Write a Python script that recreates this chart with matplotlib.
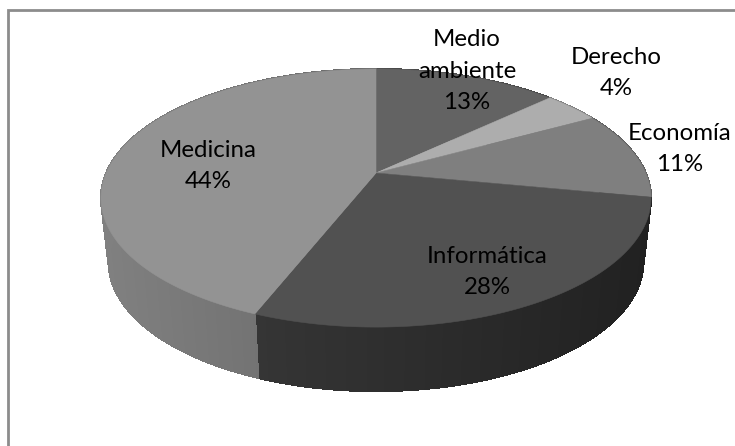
import numpy as np
import matplotlib
matplotlib.use("Agg")
import matplotlib.pyplot as plt
from matplotlib.patches import Polygon

categories = ["Medio\nambiente", "Derecho", "Economía", "Informática", "Medicina"]
values = [13, 4, 11, 28, 44]
top_colors = ["#636363", "#adadad", "#7f7f7f", "#515151", "#939393"]
side_left = ["#4a4a4a", "#808080", "#5e5e5e", "#353535", "#808080"]
side_right = ["#4a4a4a", "#808080", "#5e5e5e", "#212121", "#696969"]
label_xy = [(467, 71), (616, 73), (680, 149), (487, 272), (208, 166)]

W, H = 735, 446
fig = plt.figure(figsize=(W / 100, H / 100), dpi=100)
ax = fig.add_axes([0, 0, 1, 1])
ax.set_xlim(0, W)
ax.set_ylim(H, 0)
ax.axis("off")

CX, CY, R, A, K = 376, 173, 269.8, 124.2, 0.194
DEPTH, SHRINK = 64, 0.972


def project(theta):
    u, v = np.sin(theta), np.cos(theta)
    w = 1 / (1 + K * v)
    return CX + R * u * w, CY - A * v * w


def hex2rgb(c):
    return np.array(matplotlib.colors.to_rgb(c))


edges = 2 * np.pi * np.concatenate([[0], np.cumsum(values)]) / np.sum(values)

# side wall
for i in range(len(values)):
    n = max(4, int(values[i] * 6))
    th = np.linspace(edges[i], edges[i + 1], n + 1)
    x, y = project(th)
    xb = CX + (x - CX) * SHRINK
    yb = y + DEPTH
    c0, c1 = hex2rgb(side_left[i]), hex2rgb(side_right[i])
    for j in range(n):
        xm = 0.5 * (x[j] + x[j + 1])
        t = np.clip((xm - x.min()) / max(x.max() - x.min(), 1), 0, 1)
        col = c0 + (c1 - c0) * t
        ax.add_patch(Polygon([(x[j], y[j]), (x[j + 1], y[j + 1]),
                              (xb[j + 1], yb[j + 1]), (xb[j], yb[j])],
                             closed=True, fc=col, ec=col, lw=0.8, zorder=2,
                             antialiased=False))

# top face
for i in range(len(values)):
    th = np.linspace(edges[i], edges[i + 1], 200)
    x, y = project(th)
    pts = np.column_stack([np.r_[CX, x], np.r_[CY, y]])
    ax.add_patch(Polygon(pts, closed=True, fc=top_colors[i], ec=top_colors[i],
                         lw=0.4, zorder=3))

# chart frame (only top and left edges are visible)
ax.plot([8.5, 8.5, W], [H, 10, 10], color="#8c8c8c", lw=2.0, zorder=1,
        solid_joinstyle="miter")

for name, val, (lx, ly) in zip(categories, values, label_xy):
    ax.text(lx, ly, f"{name}\n{val}%", ha="center", va="center", family="Lato",
            fontsize=17.3, color="black", linespacing=1.62, zorder=5)

fig.savefig("out.png", dpi=100)
